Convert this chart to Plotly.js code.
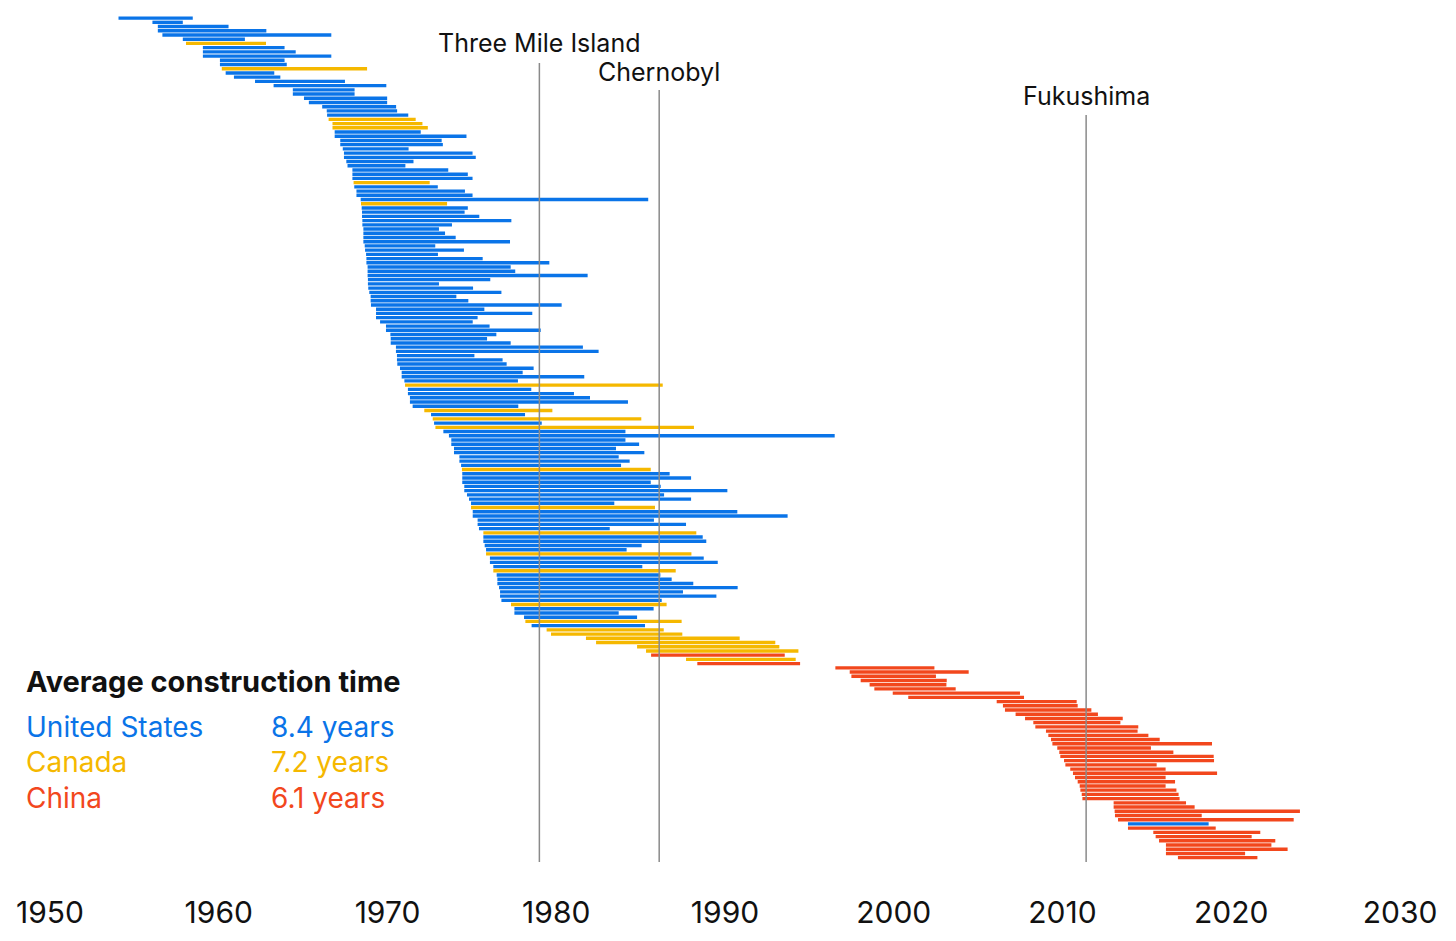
<!DOCTYPE html>
<html><head><meta charset="utf-8">
<script src="https://cdn.plot.ly/plotly-3.0.1.min.js"></script>
<style>body{margin:0;background:#fff}#c{width:1456px;height:941px}</style>
</head><body><div id="c"></div>
<script>
// Reactor construction periods (top to bottom): country, construction start, grid connection
const country = [
'U','U','U','U','U','U','C','U','U','U','U','U','C','U','U','U','U','U','U','U','U','U','U','U','C','C','C','U','U','U','U','U','U','U','U','U','U','U','U','C','U','U','U','U','C','U',
'U','U','U','U','U','U','U','U','U','U','U','U','U','U','U','U','U','U','U','U','U','U','U','U','U','U','U','U','U','U','U','U','U','U','U','U','U','U','U','U','U','C','U','U','U','U','U','C','U','C','U',
'C','U','U','U','U','U','U','U','U','U','C','U','U','U','U','U','U','U','U','C','U','U','U','U','U','C','U','U','U','U','C','U','U','U','C','U','U','U','U','U','U','U','C','U','U','U','C','U','C','C','C','C','C','C','R','C','R','R',
'R','R','R','R','R','R','R','R','R','R','R','R','R','R','R','R','R','R','R','R','R','R','R','R','R','R','R','R','R','R','R','R','R','R','R','R','U','R','R','R','R','R','R','R','R','R'];
const startYear = [
1954.06,1956.07,1956.39,1956.39,1956.66,1957.87,1958.06,1959.06,1959.06,1959.06,1960.07,1960.07,1960.18,1960.41,1960.90,1962.15,1963.25,1964.39,1964.39,1965.05,1965.34,1966.13,1966.40,1966.42,1966.51,1966.74,1966.74,1966.87,1966.87,1967.20,1967.20,1967.35,1967.42,1967.42,1967.56,1967.63,1967.92,1967.92,1967.92,1967.99,1968.03,1968.16,1968.16,1968.41,1968.43,1968.47,
1968.49,1968.49,1968.51,1968.51,1968.57,1968.57,1968.57,1968.57,1968.65,1968.67,1968.73,1968.75,1968.75,1968.82,1968.82,1968.82,1968.84,1968.84,1968.86,1968.92,1969.00,1969.00,1969.02,1969.32,1969.32,1969.32,1969.56,1969.91,1969.91,1970.17,1970.19,1970.19,1970.50,1970.50,1970.56,1970.56,1970.58,1970.74,1970.84,1970.84,1971.00,1971.04,1971.21,1971.21,1971.33,1971.33,1971.49,1972.18,1972.58,1972.68,
1972.76,1972.84,1973.31,1973.64,1973.78,1973.78,1973.94,1973.94,1974.26,1974.26,1974.36,1974.41,1974.43,1974.43,1974.43,1974.55,1974.55,1974.71,1974.83,1974.95,1974.95,1975.05,1975.05,1975.34,1975.34,1975.42,1975.68,1975.68,1975.68,1975.76,1975.84,1975.84,1976.07,1976.07,1976.27,1976.27,1976.47,1976.51,1976.51,1976.61,1976.67,1976.67,1976.75,1977.32,1977.52,1977.52,1978.09,1978.17,1978.54,1979.43,1979.69,1981.76,1982.36,1984.79,1985.32,1985.62,1987.69,1988.36,
1996.54,1997.39,1997.49,1998.04,1998.57,1998.85,1999.94,2000.86,2006.10,2006.47,2006.59,2007.22,2007.78,2008.27,2008.39,2009.02,2009.16,2009.32,2009.40,2009.69,2009.81,2009.87,2010.09,2010.17,2010.46,2010.62,2010.74,2010.90,2011.02,2011.06,2011.14,2011.18,2013.03,2013.03,2013.09,2013.11,2013.29,2013.88,2013.88,2015.38,2015.52,2015.72,2016.13,2016.13,2016.13,2016.84];
const endYear = [
1958.46,1957.87,1960.58,1962.82,1966.67,1961.55,1962.80,1963.90,1964.56,1966.67,1963.90,1964.03,1968.79,1963.29,1963.65,1967.48,1969.93,1968.05,1968.05,1969.98,1969.98,1970.51,1970.57,1971.23,1971.67,1972.07,1972.39,1971.97,1974.68,1973.21,1973.28,1971.25,1975.04,1975.23,1971.54,1971.06,1973.60,1974.76,1975.04,1972.50,1972.98,1974.59,1975.04,1985.45,1973.53,1974.76,
1974.57,1975.44,1977.34,1973.82,1973.05,1973.41,1974.04,1977.26,1972.83,1974.53,1972.99,1975.64,1979.59,1977.30,1977.57,1981.86,1976.09,1973.05,1975.07,1976.75,1974.08,1974.79,1980.32,1975.74,1978.58,1975.34,1975.05,1976.05,1979.08,1976.45,1975.90,1977.30,1981.58,1982.51,1975.15,1976.82,1977.06,1978.66,1978.01,1981.66,1977.73,1986.31,1978.52,1981.05,1982.00,1984.25,1977.75,1979.77,1978.15,1985.04,
1979.14,1988.16,1984.10,1996.50,1984.10,1984.91,1983.54,1985.22,1983.70,1984.35,1983.84,1985.60,1986.72,1987.99,1985.60,1986.19,1990.14,1986.39,1987.99,1983.44,1985.85,1990.73,1993.71,1985.79,1987.69,1983.17,1988.30,1988.68,1988.89,1985.06,1984.17,1988.01,1988.74,1989.57,1985.10,1987.08,1986.17,1986.84,1988.12,1990.75,1987.51,1989.49,1986.25,1986.54,1985.77,1983.70,1984.79,1987.43,1985.26,1986.37,1987.47,1990.87,1992.98,1993.22,1994.35,1993.54,1994.19,1994.45,
2002.41,2004.44,2002.50,2003.14,2003.12,2003.67,2007.48,2007.72,2010.84,2010.90,2011.71,2012.10,2013.57,2013.43,2014.49,2014.45,2015.09,2015.76,2018.86,2015.24,2016.57,2018.96,2018.98,2015.58,2016.11,2019.16,2016.11,2016.67,2016.11,2016.75,2016.88,2016.94,2017.32,2017.83,2024.07,2018.25,2023.70,2018.66,2019.08,2021.72,2021.21,2022.61,2022.38,2023.34,2020.82,2021.55];
const tickYears = [1950,1960,1970,1980,1990,2000,2010,2020,2030];
const events = [{name:'Three Mile Island', year:1979.0}, {name:'Chernobyl', year:1986.1}, {name:'Fukushima', year:2011.4}];
const legendRows = [['United States','8.4 years'],['Canada','7.2 years'],['China','6.1 years']];

const colors = {U:'#0a74e8', C:'#f5b800', R:'#f2471d'};
const N = country.length;
const traces = ['U','C','R'].map(code => {
  const idx = country.map((c,i)=>c===code?i:-1).filter(i=>i>=0);
  return {type:'bar', orientation:'h', y:idx, base:idx.map(i=>startYear[i]),
    x:idx.map(i=>endYear[i]-startYear[i]), width:0.8,
    marker:{color:colors[code], line:{width:0}}, hoverinfo:'skip', showlegend:false};
});
const T=16, B=864, H=B-T;
const py = p => (B-p)/H;
const px = p => (p-50)/1350;
const lineTops=[63,90,115], labelY=[43,72,96];
const shapes = events.map((e,k)=>({type:'line', xref:'x', yref:'paper', x0:e.year, x1:e.year, y0:py(862), y1:py(lineTops[k]), line:{color:'#8a8a8a', width:1.5}}));
const ann = events.map((e,k)=>({xref:'x', yref:'paper', x:e.year, y:py(labelY[k]), text:e.name, showarrow:false, xanchor:'center', yanchor:'middle', font:{size:25, color:'#111'}}));
ann.push({xref:'paper', yref:'paper', x:px(24), y:py(681), text:'<b>Average construction time</b>', showarrow:false, xanchor:'left', yanchor:'middle', font:{size:29, color:'#111'}});
const legY=[727,762,798], legC=['U','C','R'];
legendRows.forEach((r,k)=>{
  ann.push({xref:'paper', yref:'paper', x:px(24), y:py(legY[k]), text:r[0], showarrow:false, xanchor:'left', yanchor:'middle', font:{size:28, color:colors[legC[k]]}});
  ann.push({xref:'paper', yref:'paper', x:px(269), y:py(legY[k]), text:r[1], showarrow:false, xanchor:'left', yanchor:'middle', font:{size:28, color:colors[legC[k]]}});
});
const layout = {width:1456, height:941, margin:{l:50, r:56, t:T, b:941-B},
  paper_bgcolor:'#fff', plot_bgcolor:'#fff', barmode:'overlay',
  font:{family:'Inter, "Noto Sans", sans-serif'},
  xaxis:{range:[1950,2030], tickvals:tickYears, ticktext:tickYears.map(String), showgrid:false, zeroline:false, showline:false, ticks:'', tickfont:{size:30, color:'#111'}, ticklabelstandoff:28},
  yaxis:{range:[N-0.5,-0.5], showgrid:false, zeroline:false, showticklabels:false, ticks:''},
  shapes:shapes, annotations:ann};
Plotly.newPlot('c', traces, layout, {displayModeBar:false, staticPlot:true});
</script></body></html>
